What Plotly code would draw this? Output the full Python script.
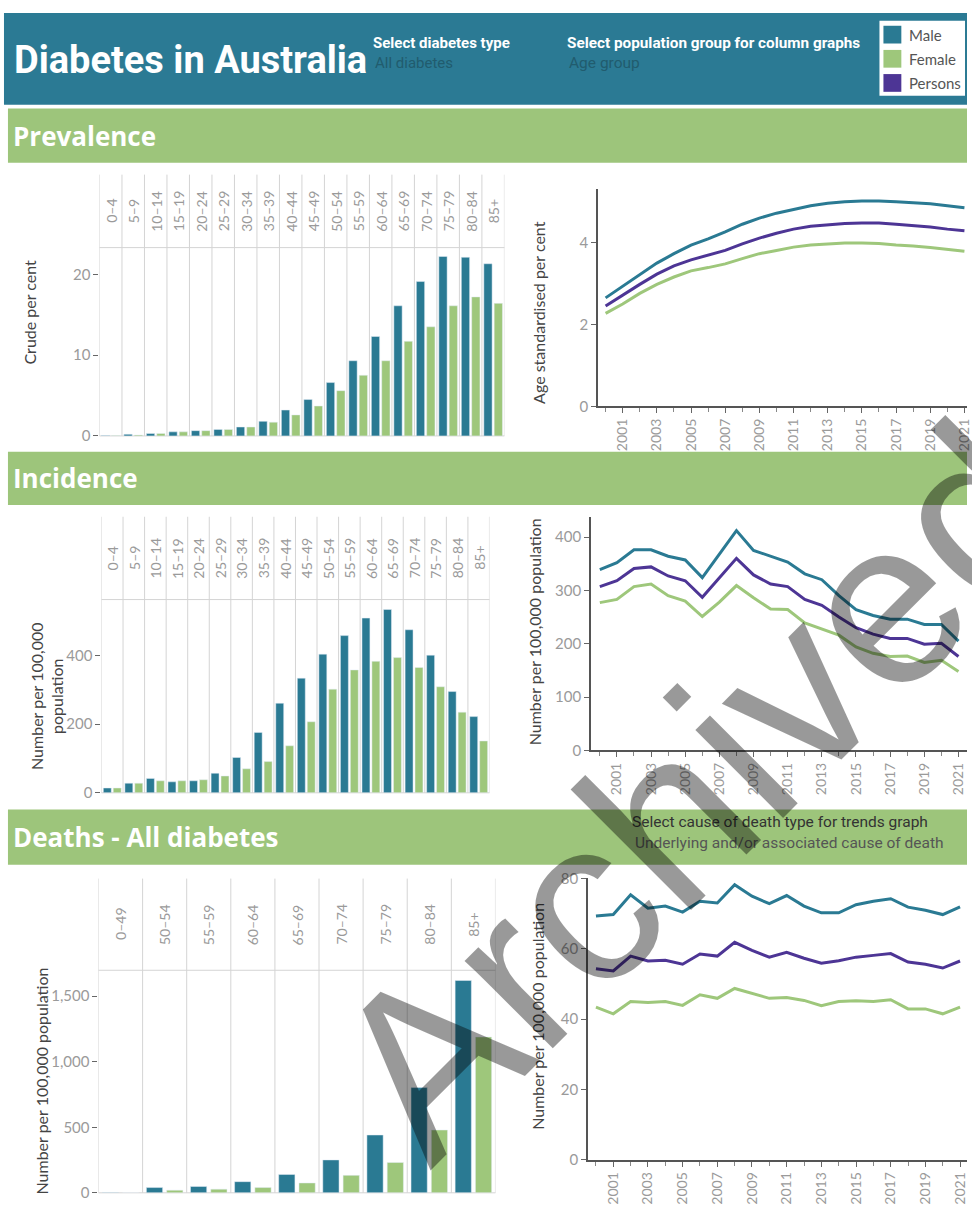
import plotly.graph_objects as go

W, H = 972, 1208


def px(x):
    return x / W


def py(y):
    return 1 - y / H


MALE = "#2a7a93"
FEMALE = "#9ec77b"
PERSONS = "#4d3595"
TEAL_BAND = "#2b7a94"
GREEN_BAND = "#9dc57b"
GRID = "#d4d4d4"
TICK_TXT = "#9a9a9a"
AXIS_TXT = "#444444"
BODY_FONT = "Lato"
HEAD_FONT = "Roboto"

# ---- Prevalence by age group (crude per cent) ----
age_groups = ["0–4", "5–9", "10–14", "15–19", "20–24", "25–29", "30–34", "35–39",
              "40–44", "45–49", "50–54", "55–59", "60–64", "65–69", "70–74",
              "75–79", "80–84", "85+"]
prev_male = [0.05, 0.2, 0.3, 0.5, 0.65, 0.8, 1.1, 1.8, 3.2, 4.5, 6.6, 9.3,
             12.3, 16.1, 19.1, 22.2, 22.1, 21.3]
prev_female = [0.05, 0.1, 0.3, 0.5, 0.65, 0.8, 1.1, 1.7, 2.6, 3.7, 5.6, 7.5,
               9.3, 11.7, 13.5, 16.1, 17.2, 16.4]

# ---- Prevalence trend (age standardised per cent) ----
years = list(range(2000, 2022))
prev_trend_male = [2.65, 2.94, 3.23, 3.50, 3.73, 3.94, 4.09, 4.26, 4.45, 4.60, 4.72,
                   4.81, 4.90, 4.96, 5.00, 5.02, 5.02, 5.00, 4.98, 4.95, 4.90, 4.85]
prev_trend_female = [2.27, 2.50, 2.76, 2.98, 3.16, 3.31, 3.39, 3.48, 3.61, 3.73, 3.81,
                     3.89, 3.94, 3.97, 3.99, 3.99, 3.98, 3.94, 3.92, 3.88, 3.83, 3.79]
prev_trend_persons = [2.45, 2.72, 2.98, 3.23, 3.43, 3.58, 3.69, 3.81, 3.97, 4.11, 4.23,
                      4.33, 4.40, 4.44, 4.47, 4.48, 4.48, 4.45, 4.42, 4.38, 4.33, 4.29]

# ---- Incidence by age group (per 100,000) ----
inc_male = [14, 28, 42, 32, 35, 57, 103, 176, 261, 334, 404, 458, 509, 534,
            475, 401, 295, 222]
inc_female = [14, 28, 35, 35, 38, 49, 70, 91, 137, 207, 302, 358, 383, 394,
              365, 309, 235, 151]

# ---- Incidence trend (per 100,000) ----
inc_trend_male = [339, 352, 376, 376, 364, 357, 324, 368, 412, 375, 364, 353, 331,
                  320, 290, 264, 253, 246, 246, 236, 236, 205]
inc_trend_female = [277, 283, 307, 312, 290, 280, 251, 278, 309, 286, 265, 264, 239,
                    227, 216, 194, 182, 176, 177, 165, 169, 148]
inc_trend_persons = [307, 318, 341, 344, 327, 318, 287, 323, 360, 329, 312, 307, 283,
                     272, 250, 230, 218, 210, 210, 199, 201, 176]

# ---- Deaths by age group (per 100,000) ----
death_age_groups = ["0–49", "50–54", "55–59", "60–64", "65–69", "70–74",
                    "75–79", "80–84", "85+"]
death_male = [3, 40, 48, 85, 140, 251, 441, 803, 1620]
death_female = [1, 20, 28, 40, 75, 133, 231, 479, 1189]

# ---- Deaths trend (per 100,000) ----
death_trend_male = [69.3, 69.7, 75.3, 71.5, 72.1, 70.4, 73.5, 73.0, 78.2, 74.9, 72.8,
                    75.1, 72.1, 70.2, 70.2, 72.5, 73.5, 74.2, 71.8, 70.9, 69.7, 71.9]
death_trend_female = [43.4, 41.5, 45.0, 44.7, 45.0, 43.9, 46.9, 45.9, 48.7, 47.3, 45.9,
                      46.1, 45.3, 43.8, 45.0, 45.2, 45.0, 45.5, 42.9, 42.9, 41.5, 43.4]
death_trend_persons = [54.3, 53.7, 57.9, 56.5, 56.7, 55.6, 58.5, 57.9, 61.8, 59.5, 57.6,
                       59.0, 57.3, 55.9, 56.6, 57.6, 58.1, 58.6, 56.2, 55.6, 54.5, 56.5]

fig = go.Figure()
shapes = []
annotations = []


def note(x, y, text, size, color, family=BODY_FONT, angle=0, xanchor="center",
         xref="paper"):
    annotations.append(dict(x=x, y=y, xref=xref, yref="paper", text=text,
                            textangle=angle, showarrow=False, xanchor=xanchor,
                            yanchor="middle",
                            font=dict(family=family, size=size, color=color)))


def add_bar_panel(n, cats, male, female, left, right, head_top, plot_top, bottom,
                  yrange, ticks, title, title_x, title_y):
    xa, ya = f"x{n}" if n > 1 else "x", f"y{n}" if n > 1 else "y"
    fig.add_trace(go.Bar(x=cats, y=male, marker_color=MALE, name="Male",
                         xaxis=xa, yaxis=ya, showlegend=False))
    fig.add_trace(go.Bar(x=cats, y=female, marker_color=FEMALE, name="Female",
                         xaxis=xa, yaxis=ya, showlegend=False))
    key = "" if n == 1 else str(n)
    fig.update_layout(**{
        f"xaxis{key}": dict(domain=[px(left), px(right)], anchor=ya,
                            showticklabels=False, showgrid=False, zeroline=False,
                            showline=False, ticks="", fixedrange=True,
                            range=[-0.5, len(cats) - 0.5]),
        f"yaxis{key}": dict(domain=[py(bottom), py(plot_top)], anchor=xa,
                            range=yrange, tickvals=ticks, tickformat=",",
                            ticks="outside", ticklen=5, tickcolor="#666",
                            showgrid=False, zeroline=False, showline=False,
                            tickfont=dict(family=BODY_FONT, size=15, color=TICK_TXT)),
    })
    # column separators through the header strip and the plot
    for i in range(len(cats) + 1):
        shapes.append(dict(type="line", xref=xa, yref="paper", x0=i - 0.5, x1=i - 0.5,
                           y0=py(bottom), y1=py(head_top),
                           line=dict(color=GRID, width=1), layer="below"))
    for yy in (plot_top, bottom):
        shapes.append(dict(type="line", xref="paper", yref="paper", x0=px(left),
                           x1=px(right), y0=py(yy), y1=py(yy),
                           line=dict(color=GRID, width=1), layer="below"))
    mid = (head_top + plot_top) / 2
    for c in cats:
        note(c, py(mid), c, 14, TICK_TXT, angle=-90, xref=xa)
    note(px(title_x), py(title_y), title, 16, AXIS_TXT, angle=-90)


def add_line_panel(n, male, female, persons, left, right, top, bottom, xrange,
                   yrange, ticks, title, title_x, title_y):
    xa, ya = f"x{n}", f"y{n}"
    for vals, col, name in ((male, MALE, "Male"), (female, FEMALE, "Female"),
                            (persons, PERSONS, "Persons")):
        fig.add_trace(go.Scatter(x=years, y=vals, mode="lines", name=name,
                                 line=dict(color=col, width=3), xaxis=xa, yaxis=ya,
                                 showlegend=False))
    fig.update_layout(**{
        f"xaxis{n}": dict(domain=[px(left), px(right)], anchor=ya, range=xrange,
                          tick0=2001, dtick=2, tickangle=-90, ticks="outside",
                          ticklen=5, tickcolor="#666", showline=True,
                          linecolor="#555", linewidth=1.5, showgrid=False,
                          zeroline=False, ticklabeloverflow="allow",
                          minor=dict(dtick=1, tick0=2000, ticks="outside", ticklen=4,
                                     tickcolor="#888"),
                          tickfont=dict(family=BODY_FONT, size=14, color=TICK_TXT)),
        f"yaxis{n}": dict(domain=[py(bottom), py(top)], anchor=xa, range=yrange,
                          tickvals=ticks, ticks="outside", ticklen=5, tickcolor="#666",
                          showline=True, linecolor="#555", linewidth=1.5,
                          showgrid=False, zeroline=False,
                          tickfont=dict(family=BODY_FONT, size=15, color=TICK_TXT)),
    })
    note(px(title_x), py(title_y), title, 16, AXIS_TXT, angle=-90)


# Prevalence
add_bar_panel(1, age_groups, prev_male, prev_female, 100, 507, 168, 242, 433,
              [0, 23.3], [0, 10, 20], "Crude per cent", 30, 307)
add_line_panel(2, prev_trend_male, prev_trend_female, prev_trend_persons,
               601, 972, 183, 403, [1999.55, 2021.15], [0, 5.3], [0, 2, 4],
               "Age standardised per cent", 541, 308)
# Incidence
add_bar_panel(3, age_groups, inc_male, inc_female, 102, 492, 515, 599, 795,
              [0, 563], [0, 200, 400], "Number per 100,000<br>population", 47, 697)
add_line_panel(4, inc_trend_male, inc_trend_female, inc_trend_persons,
               594, 972, 515, 752, [1999.48, 2021.5], [0, 438],
               [0, 100, 200, 300, 400], "Number per 100,000 population", 537, 632)
# Deaths
add_bar_panel(5, death_age_groups, death_male, death_female, 99, 498, 882, 975, 1200.7,
              [0, 1698], [0, 500, 1000, 1500], "Number per 100,000 population",
              42, 1087)
add_line_panel(6, death_trend_male, death_trend_female, death_trend_persons,
               591, 972, 881, 1167.3, [1999.54, 2021.4], [0, 80.2],
               [0, 20, 40, 60, 80], "Number per 100,000 population", 540, 1022)

# ---- dashboard header ----
shapes.append(dict(type="rect", xref="paper", yref="paper", x0=px(4), x1=1,
                   y0=py(97), y1=py(4), fillcolor=TEAL_BAND, line_width=0,
                   layer="below"))
note(px(12), py(52), "<b>Diabetes in Australia</b>", 38, "white", HEAD_FONT,
     xanchor="left")
for x0, head, val, hs, vs in ((373, "Select diabetes type", "All diabetes", 15, 15),
                              (568, "Select population group for column graphs",
                               "Age group", 15.3, 15.5)):
    note(px(x0), py(34), f"<b>{head}</b>", hs, "white", HEAD_FONT, xanchor="left")
    note(px(x0 + 2), py(55), val, vs, "#215c6e", HEAD_FONT, xanchor="left")

# legend box
shapes.append(dict(type="rect", xref="paper", yref="paper", x0=px(884), x1=px(970),
                   y0=py(88), y1=py(12), fillcolor="white", line_width=0))
for i, (lab, col) in enumerate((("Male", MALE), ("Female", FEMALE),
                                ("Persons", PERSONS))):
    yc = 26 + i * 24.5
    shapes.append(dict(type="rect", xref="paper", yref="paper", x0=px(888), x1=px(906),
                       y0=py(yc + 9), y1=py(yc - 9), fillcolor=col, line_width=0))
    note(px(912), py(yc), lab, 15, "#555", xanchor="left")

# ---- section bands ----
for top, bottom, label in ((101, 156, "Prevalence"), (449, 503, "Incidence"),
                           (812, 868, "Deaths - All diabetes")):
    shapes.append(dict(type="rect", xref="paper", yref="paper", x0=px(8), x1=1,
                       y0=py(bottom), y1=py(top), fillcolor=GREEN_BAND, line_width=0,
                       layer="below"))
    note(px(11), py((top + bottom) / 2), f"<b>{label}</b>", 26, "white",
         "Open Sans", xanchor="left")
note(px(633), py(825), "Select cause of death type for trends graph", 15.5, "#333",
     HEAD_FONT, xanchor="left")
note(px(636), py(846), "Underlying and/or associated cause of death", 15.5, "#555",
     HEAD_FONT, xanchor="left")

# archive stamp across the lower half
note(px(700), py(792), "Archived", 235, "rgba(0,0,0,0.4)", "Liberation Sans",
     angle=-45)

fig.update_layout(width=W, height=H, margin=dict(l=0, r=0, t=0, b=0),
                  paper_bgcolor="white", plot_bgcolor="rgba(0,0,0,0)",
                  barmode="group", bargap=0.08, bargroupgap=0.2,
                  shapes=shapes, annotations=annotations,
                  font=dict(family=BODY_FONT))

fig.write_html("out.html")
